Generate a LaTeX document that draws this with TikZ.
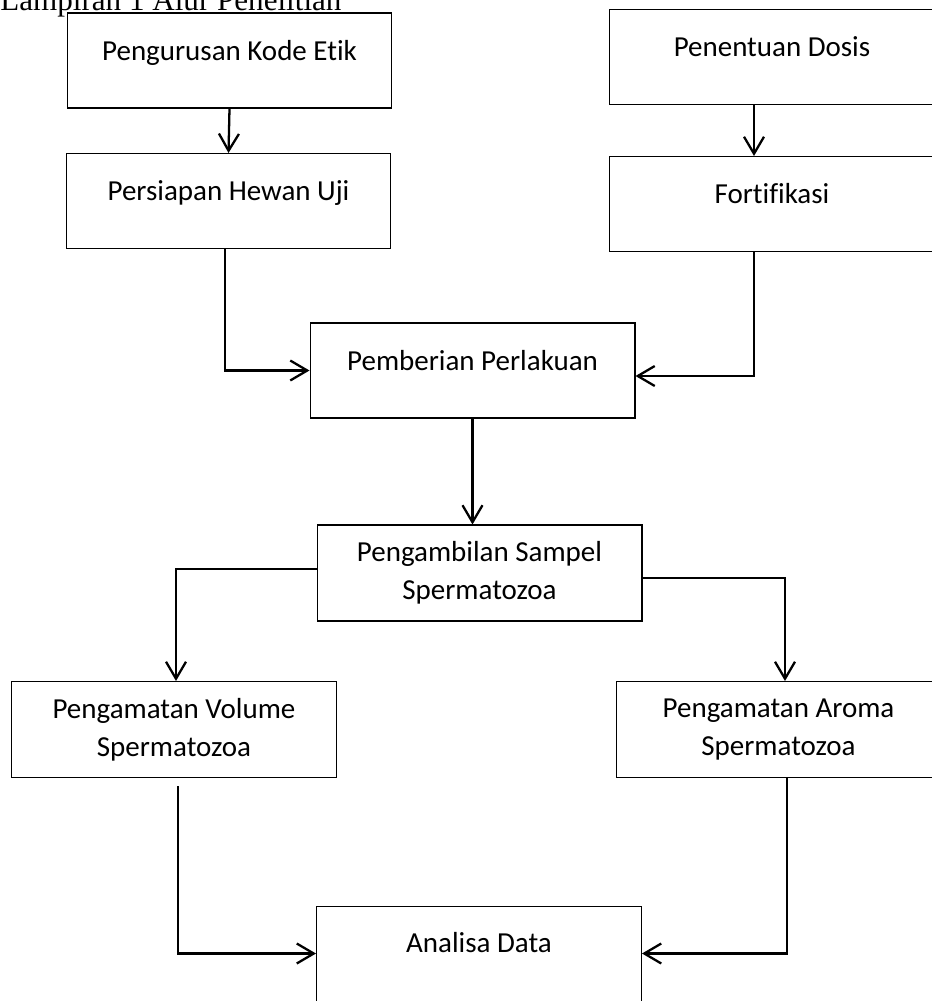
\documentclass[tikz,border=0pt]{standalone}
\usepackage{fontspec}
\setmainfont{Carlito}[Ligatures=CommonOff]
\newfontfamily\titlefont{Liberation Serif}
\usetikzlibrary{arrows.meta}

\begin{document}
\begin{tikzpicture}[x=0.02cm,y=-0.02cm,font=\fontsize{16.5}{21.5}\selectfont,
  box/.style={draw,line width=0.6pt,minimum width=6.5cm,inner ysep=0pt,text height=0.94cm,text depth=0.96cm},
  twobox/.style={draw,line width=0.6pt,minimum width=6.5cm,minimum height=1.92cm,align=center},
  flow/.style={line width=1.3pt,-{Straight Barb[length=0.34cm,width=0.4cm]}}]
\useasboundingbox (0,0) rectangle (931,1001);
\node[anchor=base west,inner sep=0pt,font=\titlefont\fontsize{17.7}{20}\selectfont] (title) at (0,10.5) {Lampiran 1 Alur Penelitian};
\node[box] (etik) at (229.5,60.5) {Pengurusan Kode Etik};
\node[box] (hewan) at (228.5,201) {Persiapan Hewan Uji};
\node[box] (dosis) at (772,57) {Penentuan Dosis};
\node[box] (fortif) at (772,204) {Fortifikasi};
\node[box] (perlakuan) at (472.5,370.5) {Pemberian Perlakuan};
\node[twobox] (sampel) at (479.5,573) {Pengambilan Sampel\\Spermatozoa};
\node[twobox] (volume) at (174,729.5) {Pengamatan Volume\\Spermatozoa};
\node[twobox] (aroma) at (778.5,729.5) {Pengamatan Aroma\\Spermatozoa};
\node[box, text height=0.92cm, text depth=1.02cm] (analisa) at (479,955) {Analisa Data};
\draw[flow] (etik.south) -- (hewan.north);
\draw[flow] ([xshift=-0.36cm]dosis.south) -- ([xshift=-0.36cm]fortif.north);
\draw[flow] ([xshift=-0.07cm]hewan.south) |- (perlakuan.west);
\draw[flow] ([xshift=-0.36cm]fortif.south) |- ([yshift=-0.11cm]perlakuan.east);
\draw[flow] (perlakuan.south) -- (perlakuan.south |- sampel.north);
\draw[flow] ([yshift=0.08cm]sampel.west) -| ([xshift=0.04cm]volume.north);
\draw[flow] ([yshift=-0.1cm]sampel.east) -| ([xshift=0.13cm]aroma.north);
\draw[flow] ([xshift=0.08cm,yshift=-0.16cm]volume.south) |- ([yshift=0.03cm]analisa.west);
\draw[flow] ([xshift=0.17cm]aroma.south) |- ([yshift=0.03cm]analisa.east);
\end{tikzpicture}
\end{document}
